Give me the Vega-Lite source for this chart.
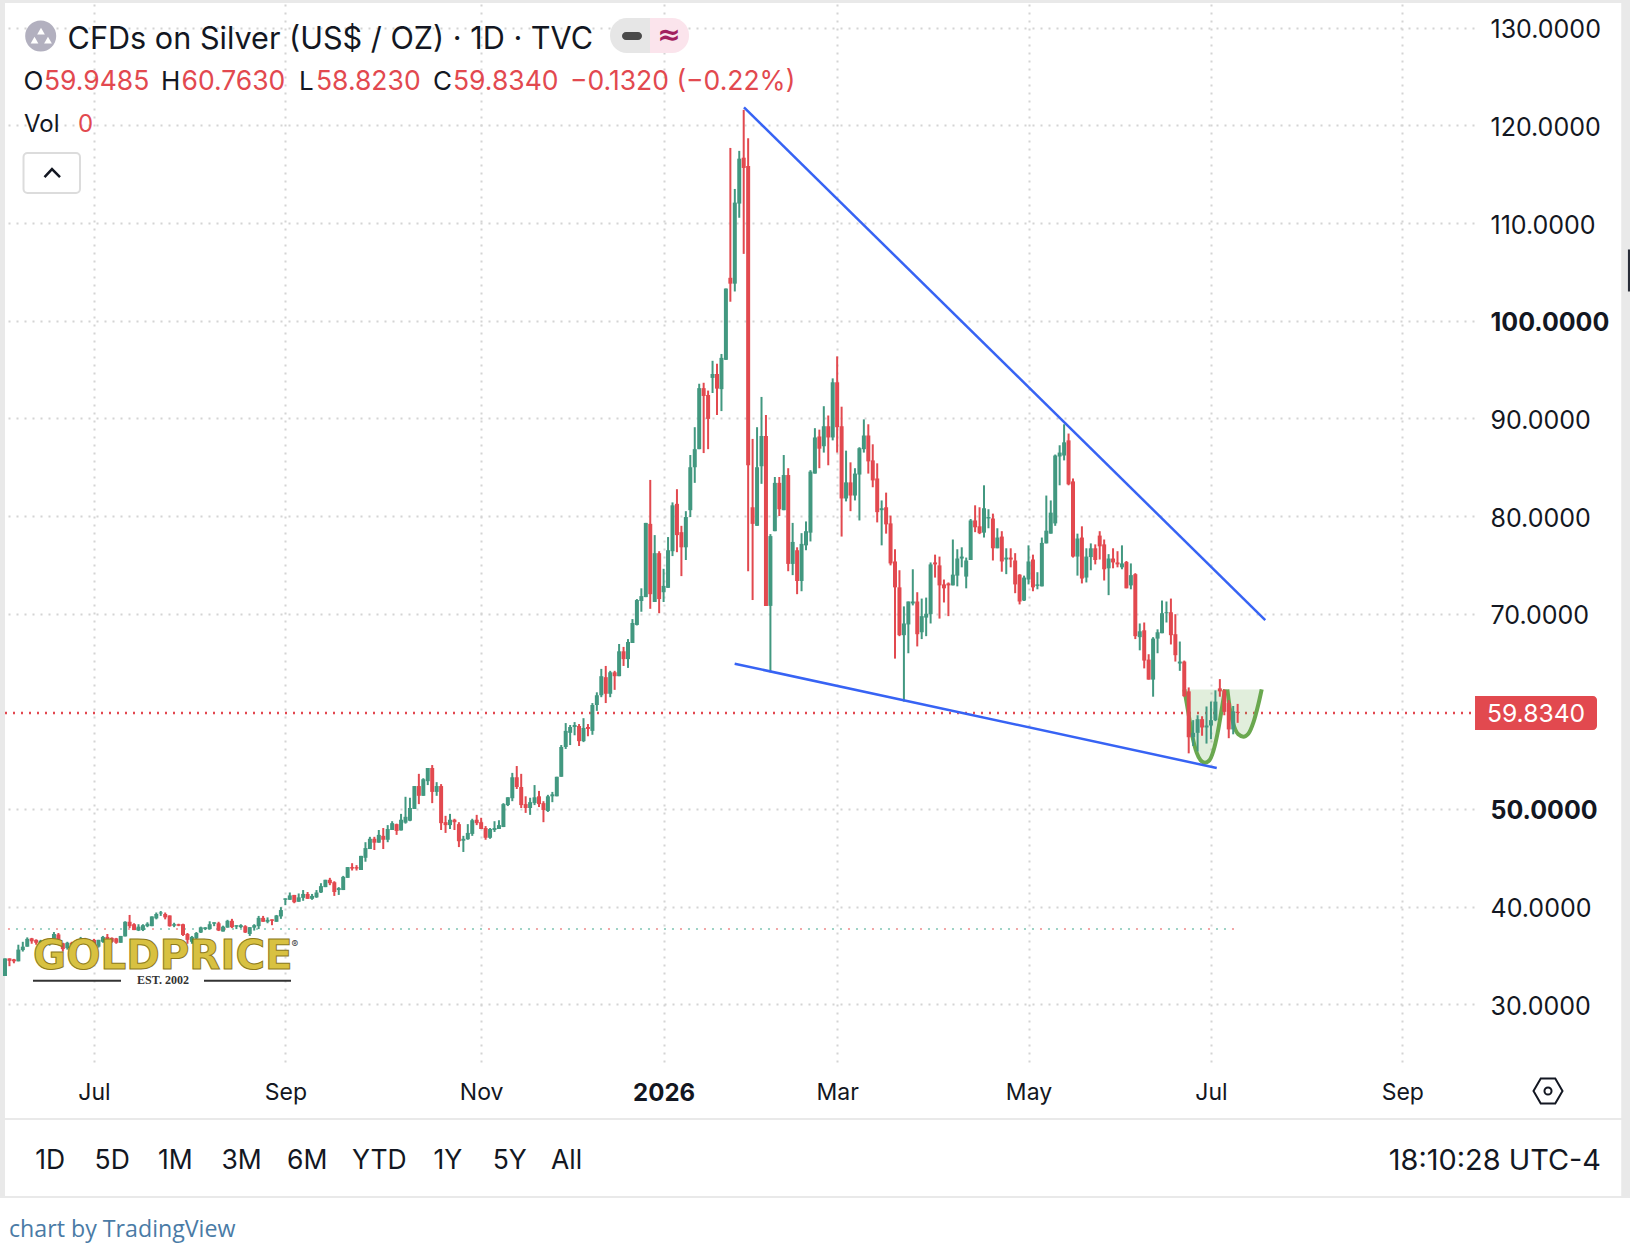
{
"$schema":"https://vega.github.io/schema/vega-lite/v6.json",
"width":1469,"height":1058,
"autosize":{"type":"none"},
"padding":{"left":5,"top":4,"right":156,"bottom":190},
"background":"white",
"config":{"view":{"stroke":null},"font":"Inter"},
"datasets":{"candles":[
{"session":0,"open":32.9,"high":34.7,"low":32.9,"close":34.7},
{"session":1,"open":34.7,"high":34.7,"low":33.9,"close":34.45},
{"session":2,"open":34.6,"high":34.65,"low":34.2,"close":34.4},
{"session":3,"open":34.4,"high":36.1,"low":34.4,"close":35.6},
{"session":4,"open":35.55,"high":36.4,"low":35.4,"close":35.9},
{"session":5,"open":35.9,"high":36.85,"low":35.9,"close":36.7},
{"session":6,"open":36.75,"high":36.8,"low":36.2,"close":36.45},
{"session":7,"open":36.6,"high":36.65,"low":36.1,"close":36.3},
{"session":8,"open":36.2,"high":36.6,"low":36.0,"close":36.5},
{"session":9,"open":36.4,"high":36.5,"low":36.1,"close":36.15},
{"session":10,"open":36.15,"high":36.55,"low":36.0,"close":36.45},
{"session":11,"open":36.4,"high":37.4,"low":36.3,"close":37.2},
{"session":12,"open":37.15,"high":37.3,"low":36.4,"close":36.6},
{"session":13,"open":36.25,"high":36.3,"low":35.4,"close":35.65},
{"session":14,"open":35.75,"high":36.4,"low":35.6,"close":36.3},
{"session":15,"open":36.3,"high":36.4,"low":36.0,"close":36.1},
{"session":16,"open":36.1,"high":36.3,"low":35.8,"close":36.2},
{"session":17,"open":36.2,"high":36.9,"low":36.1,"close":36.7},
{"session":18,"open":36.7,"high":36.8,"low":36.2,"close":36.3},
{"session":19,"open":36.3,"high":36.5,"low":35.9,"close":36.0},
{"session":20,"open":36.6,"high":36.7,"low":35.7,"close":35.9},
{"session":21,"open":35.9,"high":36.6,"low":35.8,"close":36.6},
{"session":22,"open":36.4,"high":37.0,"low":36.3,"close":36.9},
{"session":23,"open":36.9,"high":37.2,"low":36.4,"close":36.7},
{"session":24,"open":36.8,"high":36.85,"low":36.3,"close":36.4},
{"session":25,"open":36.75,"high":36.8,"low":36.2,"close":36.3},
{"session":26,"open":36.3,"high":37.0,"low":36.3,"close":37.0},
{"session":27,"open":36.95,"high":38.5,"low":36.95,"close":38.45},
{"session":28,"open":38.45,"high":39.15,"low":37.8,"close":38.0},
{"session":29,"open":38.2,"high":38.3,"low":37.6,"close":37.6},
{"session":30,"open":37.55,"high":38.2,"low":37.5,"close":37.95},
{"session":31,"open":37.6,"high":38.2,"low":37.5,"close":38.1},
{"session":32,"open":38.0,"high":38.4,"low":37.9,"close":38.25},
{"session":33,"open":38.0,"high":39.0,"low":38.0,"close":39.0},
{"session":34,"open":38.8,"high":39.4,"low":38.7,"close":39.25},
{"session":35,"open":39.3,"high":39.55,"low":39.05,"close":39.4},
{"session":36,"open":39.25,"high":39.4,"low":38.7,"close":38.9},
{"session":37,"open":39.1,"high":39.1,"low":37.95,"close":38.0},
{"session":38,"open":38.05,"high":38.35,"low":37.9,"close":38.2},
{"session":39,"open":38.2,"high":38.25,"low":38.0,"close":38.05},
{"session":40,"open":38.2,"high":38.25,"low":37.0,"close":37.1},
{"session":41,"open":37.2,"high":37.3,"low":36.2,"close":36.6},
{"session":42,"open":36.4,"high":37.0,"low":36.2,"close":36.9},
{"session":43,"open":36.75,"high":37.4,"low":36.65,"close":37.3},
{"session":44,"open":37.35,"high":37.95,"low":37.3,"close":37.88},
{"session":45,"open":37.7,"high":37.9,"low":37.6,"close":37.88},
{"session":46,"open":37.7,"high":38.5,"low":37.65,"close":38.2},
{"session":47,"open":38.25,"high":38.4,"low":38.0,"close":38.4},
{"session":48,"open":38.3,"high":38.45,"low":37.5,"close":37.55},
{"session":49,"open":37.45,"high":38.05,"low":37.45,"close":37.95},
{"session":50,"open":37.85,"high":38.65,"low":37.85,"close":38.55},
{"session":51,"open":38.55,"high":38.75,"low":37.8,"close":37.9},
{"session":52,"open":37.95,"high":38.1,"low":37.7,"close":38.1},
{"session":53,"open":37.9,"high":38.2,"low":37.8,"close":38.1},
{"session":54,"open":38.0,"high":38.1,"low":37.3,"close":37.35},
{"session":55,"open":37.2,"high":37.9,"low":37.0,"close":37.9},
{"session":56,"open":37.85,"high":38.2,"low":37.55,"close":38.1},
{"session":57,"open":38.0,"high":39.05,"low":37.7,"close":38.85},
{"session":58,"open":38.85,"high":39.05,"low":38.45,"close":38.45},
{"session":59,"open":38.45,"high":38.9,"low":38.3,"close":38.65},
{"session":60,"open":38.7,"high":38.7,"low":38.1,"close":38.55},
{"session":61,"open":38.45,"high":39.15,"low":38.45,"close":39.1},
{"session":62,"open":39.0,"high":39.95,"low":38.75,"close":39.65},
{"session":63,"open":40.7,"high":40.85,"low":40.15,"close":40.85},
{"session":64,"open":40.7,"high":41.45,"low":40.7,"close":41.15},
{"session":65,"open":41.2,"high":41.2,"low":40.35,"close":40.45},
{"session":66,"open":40.5,"high":41.35,"low":40.5,"close":40.95},
{"session":67,"open":40.9,"high":41.7,"low":40.6,"close":41.3},
{"session":68,"open":41.3,"high":41.5,"low":40.8,"close":40.8},
{"session":69,"open":40.8,"high":41.3,"low":40.7,"close":41.1},
{"session":70,"open":40.95,"high":41.7,"low":40.9,"close":41.45},
{"session":71,"open":41.45,"high":42.4,"low":41.4,"close":42.1},
{"session":72,"open":42.0,"high":42.75,"low":42.0,"close":42.75},
{"session":73,"open":42.75,"high":42.95,"low":42.2,"close":42.4},
{"session":74,"open":42.5,"high":42.6,"low":41.1,"close":41.5},
{"session":75,"open":41.7,"high":42.0,"low":41.2,"close":41.9},
{"session":76,"open":41.7,"high":43.15,"low":41.7,"close":43.05},
{"session":77,"open":42.95,"high":44.05,"low":42.95,"close":44.05},
{"session":78,"open":44.05,"high":44.45,"low":43.7,"close":43.9},
{"session":79,"open":44.05,"high":44.25,"low":43.7,"close":43.9},
{"session":80,"open":43.75,"high":45.2,"low":43.75,"close":45.2},
{"session":81,"open":45.0,"high":46.6,"low":44.6,"close":46.0},
{"session":82,"open":45.9,"high":47.15,"low":45.9,"close":46.95},
{"session":83,"open":46.95,"high":47.15,"low":45.8,"close":46.55},
{"session":84,"open":46.55,"high":47.85,"low":46.55,"close":47.35},
{"session":85,"open":47.25,"high":48.05,"low":45.9,"close":46.85},
{"session":86,"open":46.85,"high":48.35,"low":46.6,"close":47.95},
{"session":87,"open":47.85,"high":48.75,"low":47.85,"close":48.55},
{"session":88,"open":48.45,"high":48.5,"low":47.35,"close":47.75},
{"session":89,"open":47.8,"high":49.5,"low":47.8,"close":48.9},
{"session":90,"open":48.6,"high":51.25,"low":48.5,"close":49.2},
{"session":91,"open":48.8,"high":51.15,"low":48.75,"close":50.1},
{"session":92,"open":50.0,"high":52.35,"low":50.0,"close":52.35},
{"session":93,"open":52.35,"high":53.6,"low":50.5,"close":51.35},
{"session":94,"open":51.35,"high":53.15,"low":51.35,"close":53.05},
{"session":95,"open":52.85,"high":54.2,"low":52.45,"close":54.2},
{"session":96,"open":54.2,"high":54.5,"low":50.6,"close":51.75},
{"session":97,"open":51.75,"high":52.75,"low":51.35,"close":52.35},
{"session":98,"open":52.35,"high":52.55,"low":47.85,"close":48.55},
{"session":99,"open":48.65,"high":49.3,"low":47.55,"close":48.35},
{"session":100,"open":48.35,"high":49.5,"low":47.95,"close":48.9},
{"session":101,"open":48.9,"high":49.0,"low":47.85,"close":48.65},
{"session":102,"open":48.45,"high":48.65,"low":46.1,"close":46.7},
{"session":103,"open":46.75,"high":47.25,"low":45.6,"close":46.95},
{"session":104,"open":46.9,"high":48.45,"low":46.85,"close":47.55},
{"session":105,"open":47.45,"high":49.0,"low":47.25,"close":48.85},
{"session":106,"open":48.9,"high":49.4,"low":48.35,"close":48.55},
{"session":107,"open":48.65,"high":49.1,"low":47.95,"close":47.95},
{"session":108,"open":48.05,"high":48.25,"low":46.85,"close":47.05},
{"session":109,"open":47.05,"high":48.05,"low":46.95,"close":47.95},
{"session":110,"open":47.85,"high":48.75,"low":47.65,"close":48.05},
{"session":111,"open":47.95,"high":48.85,"low":47.95,"close":48.35},
{"session":112,"open":48.15,"high":50.6,"low":48.15,"close":50.5},
{"session":113,"open":50.4,"high":51.2,"low":50.3,"close":51.2},
{"session":114,"open":51.1,"high":53.7,"low":50.8,"close":53.25},
{"session":115,"open":53.25,"high":54.4,"low":52.05,"close":52.25},
{"session":116,"open":52.25,"high":53.6,"low":50.1,"close":50.4},
{"session":117,"open":50.5,"high":51.3,"low":49.6,"close":50.1},
{"session":118,"open":50.1,"high":51.15,"low":49.4,"close":50.7},
{"session":119,"open":50.6,"high":52.45,"low":50.4,"close":51.2},
{"session":120,"open":51.3,"high":51.85,"low":50.2,"close":50.5},
{"session":121,"open":50.6,"high":50.8,"low":48.65,"close":49.9},
{"session":122,"open":49.8,"high":51.45,"low":49.7,"close":51.3},
{"session":123,"open":51.3,"high":51.75,"low":50.7,"close":51.5},
{"session":124,"open":51.3,"high":53.3,"low":51.3,"close":53.3},
{"session":125,"open":53.3,"high":56.55,"low":53.3,"close":56.35},
{"session":126,"open":56.35,"high":58.8,"low":56.15,"close":58.0},
{"session":127,"open":57.8,"high":58.6,"low":56.55,"close":58.4},
{"session":128,"open":58.4,"high":58.9,"low":57.55,"close":58.6},
{"session":129,"open":58.5,"high":58.7,"low":56.45,"close":56.95},
{"session":130,"open":56.95,"high":59.3,"low":56.85,"close":58.3},
{"session":131,"open":58.4,"high":58.7,"low":57.45,"close":58.2},
{"session":132,"open":58.0,"high":60.85,"low":57.6,"close":60.65},
{"session":133,"open":60.65,"high":61.95,"low":60.05,"close":61.65},
{"session":134,"open":61.65,"high":64.35,"low":61.45,"close":63.6},
{"session":135,"open":63.5,"high":64.65,"low":60.85,"close":61.8},
{"session":136,"open":61.8,"high":64.15,"low":61.45,"close":64.0},
{"session":137,"open":64.0,"high":64.15,"low":62.2,"close":63.6},
{"session":138,"open":63.6,"high":66.9,"low":63.6,"close":66.15},
{"session":139,"open":66.15,"high":66.6,"low":64.65,"close":65.35},
{"session":140,"open":65.35,"high":67.4,"low":64.45,"close":67.1},
{"session":141,"open":67.0,"high":69.45,"low":67.0,"close":69.05},
{"session":142,"open":68.85,"high":71.5,"low":68.8,"close":71.4},
{"session":143,"open":71.3,"high":72.6,"low":70.2,"close":71.8},
{"session":144,"open":71.7,"high":79.3,"low":71.7,"close":79.3},
{"session":145,"open":79.2,"high":83.7,"low":70.5,"close":72.0},
{"session":146,"open":71.2,"high":78.05,"low":71.2,"close":76.2},
{"session":147,"open":76.2,"high":76.4,"low":70.05,"close":71.5},
{"session":148,"open":72.2,"high":74.6,"low":71.2,"close":72.85},
{"session":149,"open":72.65,"high":77.85,"low":72.65,"close":76.5},
{"session":150,"open":76.4,"high":81.4,"low":75.9,"close":81.1},
{"session":151,"open":81.25,"high":82.75,"low":76.3,"close":78.05},
{"session":152,"open":78.35,"high":79.0,"low":73.85,"close":76.8},
{"session":153,"open":76.8,"high":80.5,"low":75.5,"close":79.9},
{"session":154,"open":80.6,"high":86.25,"low":79.9,"close":85.0},
{"session":155,"open":85.0,"high":89.1,"low":83.4,"close":86.85},
{"session":156,"open":86.85,"high":93.55,"low":86.85,"close":93.1},
{"session":157,"open":93.1,"high":93.65,"low":86.45,"close":92.3},
{"session":158,"open":92.4,"high":92.85,"low":86.85,"close":89.95},
{"session":159,"open":94.15,"high":95.9,"low":92.6,"close":94.55},
{"session":160,"open":94.55,"high":95.6,"low":90.35,"close":93.05},
{"session":161,"open":93.0,"high":96.6,"low":90.75,"close":96.2},
{"session":162,"open":96.0,"high":103.3,"low":96.0,"close":103.3},
{"session":163,"open":104.4,"high":117.7,"low":101.95,"close":103.8},
{"session":164,"open":103.8,"high":113.5,"low":103.0,"close":112.1},
{"session":165,"open":112.0,"high":117.4,"low":110.55,"close":116.6},
{"session":166,"open":116.7,"high":121.6,"low":106.85,"close":115.65},
{"session":167,"open":115.85,"high":118.7,"low":74.35,"close":85.2},
{"session":168,"open":80.9,"high":87.9,"low":71.4,"close":79.2},
{"session":169,"open":79.0,"high":89.1,"low":79.0,"close":85.0},
{"session":170,"open":85.1,"high":92.2,"low":83.3,"close":88.2},
{"session":171,"open":88.2,"high":90.35,"low":70.8,"close":70.8},
{"session":172,"open":70.8,"high":78.15,"low":64.0,"close":77.95},
{"session":173,"open":78.45,"high":84.0,"low":78.45,"close":83.4},
{"session":174,"open":83.4,"high":84.0,"low":80.0,"close":80.7},
{"session":175,"open":80.6,"high":86.25,"low":80.6,"close":84.2},
{"session":176,"open":84.2,"high":84.9,"low":74.35,"close":75.1},
{"session":177,"open":75.1,"high":79.3,"low":73.95,"close":77.35},
{"session":178,"open":76.5,"high":76.8,"low":72.0,"close":73.35},
{"session":179,"open":73.35,"high":78.25,"low":72.3,"close":77.15},
{"session":180,"open":77.0,"high":79.45,"low":76.5,"close":78.45},
{"session":181,"open":78.3,"high":84.7,"low":77.4,"close":84.55},
{"session":182,"open":84.35,"high":89.0,"low":84.35,"close":88.05},
{"session":183,"open":88.15,"high":88.85,"low":84.9,"close":86.9},
{"session":184,"open":87.15,"high":91.25,"low":86.5,"close":89.2},
{"session":185,"open":89.2,"high":90.3,"low":85.2,"close":88.05},
{"session":186,"open":88.05,"high":94.1,"low":87.75,"close":93.7},
{"session":187,"open":93.7,"high":96.35,"low":86.5,"close":89.1},
{"session":188,"open":89.2,"high":91.2,"low":77.9,"close":81.8},
{"session":189,"open":81.8,"high":86.7,"low":81.5,"close":83.45},
{"session":190,"open":83.45,"high":85.5,"low":80.5,"close":82.1},
{"session":191,"open":82.1,"high":84.9,"low":81.6,"close":84.35},
{"session":192,"open":84.25,"high":87.05,"low":79.55,"close":86.95},
{"session":193,"open":86.85,"high":89.9,"low":86.5,"close":88.25},
{"session":194,"open":88.25,"high":89.4,"low":84.35,"close":85.6},
{"session":195,"open":85.7,"high":87.35,"low":82.95,"close":83.65},
{"session":196,"open":83.85,"high":85.4,"low":79.35,"close":80.4},
{"session":197,"open":80.6,"high":81.6,"low":77.0,"close":80.8},
{"session":198,"open":80.9,"high":82.4,"low":78.2,"close":79.15},
{"session":199,"open":79.25,"high":80.05,"low":74.95,"close":75.15},
{"session":200,"open":75.35,"high":76.6,"low":65.4,"close":72.7},
{"session":201,"open":72.7,"high":74.45,"low":67.7,"close":67.8},
{"session":202,"open":67.8,"high":70.75,"low":61.0,"close":69.0},
{"session":203,"open":68.9,"high":71.25,"low":65.95,"close":71.25},
{"session":204,"open":71.05,"high":74.55,"low":70.85,"close":71.25},
{"session":205,"open":71.25,"high":72.2,"low":66.65,"close":67.9},
{"session":206,"open":68.1,"high":71.55,"low":67.4,"close":69.75},
{"session":207,"open":69.6,"high":71.65,"low":67.7,"close":70.0},
{"session":208,"open":69.95,"high":75.25,"low":69.0,"close":75.05},
{"session":209,"open":75.25,"high":76.05,"low":73.7,"close":75.05},
{"session":210,"open":74.95,"high":75.85,"low":69.5,"close":72.9},
{"session":211,"open":73.0,"high":73.5,"low":71.15,"close":72.6},
{"session":212,"open":73.1,"high":73.2,"low":69.75,"close":72.9},
{"session":213,"open":72.9,"high":77.6,"low":72.9,"close":74.0},
{"session":214,"open":73.9,"high":76.6,"low":72.8,"close":75.65},
{"session":215,"open":75.65,"high":76.8,"low":74.75,"close":75.85},
{"session":216,"open":73.8,"high":75.75,"low":72.6,"close":75.45},
{"session":217,"open":75.5,"high":79.7,"low":75.5,"close":79.55},
{"session":218,"open":79.55,"high":81.1,"low":78.35,"close":78.85},
{"session":219,"open":78.95,"high":80.9,"low":78.15,"close":78.25},
{"session":220,"open":78.3,"high":83.15,"low":77.8,"close":80.8},
{"session":221,"open":79.75,"high":80.7,"low":78.75,"close":79.9},
{"session":222,"open":79.75,"high":80.25,"low":75.45,"close":76.7},
{"session":223,"open":76.7,"high":78.75,"low":76.7,"close":77.8},
{"session":224,"open":77.9,"high":78.45,"low":74.3,"close":75.35},
{"session":225,"open":75.55,"high":76.7,"low":74.05,"close":75.75},
{"session":226,"open":75.75,"high":76.7,"low":74.75,"close":75.55},
{"session":227,"open":75.45,"high":76.2,"low":72.1,"close":73.0},
{"session":228,"open":74.0,"high":74.05,"low":70.95,"close":71.25},
{"session":229,"open":71.35,"high":73.9,"low":71.3,"close":73.7},
{"session":230,"open":73.5,"high":77.0,"low":73.0,"close":75.35},
{"session":231,"open":75.55,"high":76.05,"low":72.3,"close":72.7},
{"session":232,"open":72.85,"high":74.25,"low":72.5,"close":73.0},
{"session":233,"open":72.8,"high":77.8,"low":72.8,"close":77.25},
{"session":234,"open":77.2,"high":82.1,"low":77.2,"close":78.5},
{"session":235,"open":78.2,"high":81.6,"low":78.2,"close":80.35},
{"session":236,"open":79.25,"high":86.3,"low":79.0,"close":86.2},
{"session":237,"open":86.1,"high":87.25,"low":83.15,"close":86.5},
{"session":238,"open":86.2,"high":89.4,"low":85.7,"close":87.55},
{"session":239,"open":87.75,"high":88.45,"low":83.15,"close":83.25},
{"session":240,"open":83.55,"high":83.85,"low":75.75,"close":75.85},
{"session":241,"open":75.85,"high":78.2,"low":73.9,"close":77.7},
{"session":242,"open":77.8,"high":78.95,"low":73.1,"close":73.6},
{"session":243,"open":73.7,"high":76.7,"low":73.2,"close":75.85},
{"session":244,"open":75.8,"high":77.2,"low":74.45,"close":76.7},
{"session":245,"open":76.7,"high":77.1,"low":75.05,"close":75.5},
{"session":246,"open":78.0,"high":78.45,"low":75.55,"close":76.9},
{"session":247,"open":77.1,"high":77.6,"low":73.4,"close":74.55},
{"session":248,"open":74.65,"high":76.1,"low":71.9,"close":75.65},
{"session":249,"open":75.65,"high":76.7,"low":74.65,"close":75.25},
{"session":250,"open":75.25,"high":76.4,"low":74.75,"close":75.05},
{"session":251,"open":74.75,"high":77.0,"low":74.55,"close":75.15},
{"session":252,"open":75.3,"high":75.4,"low":72.6,"close":72.6},
{"session":253,"open":72.9,"high":75.15,"low":72.5,"close":73.95},
{"session":254,"open":74.05,"high":74.15,"low":67.4,"close":67.7},
{"session":255,"open":67.6,"high":69.0,"low":66.25,"close":68.2},
{"session":256,"open":68.3,"high":69.1,"low":64.4,"close":65.2},
{"session":257,"open":65.3,"high":65.85,"low":63.25,"close":63.25},
{"session":258,"open":63.25,"high":67.6,"low":61.5,"close":67.45},
{"session":259,"open":67.45,"high":68.4,"low":65.95,"close":68.1},
{"session":260,"open":68.0,"high":71.35,"low":68.0,"close":70.05},
{"session":261,"open":70.05,"high":71.25,"low":69.1,"close":70.15},
{"session":262,"open":70.15,"high":71.55,"low":66.85,"close":67.8},
{"session":263,"open":67.9,"high":69.95,"low":65.1,"close":65.75},
{"session":264,"open":64.9,"high":67.15,"low":64.15,"close":65.1},
{"session":265,"open":65.1,"high":65.2,"low":61.5,"close":61.55},
{"session":266,"open":62.05,"high":62.45,"low":55.7,"close":57.35},
{"session":267,"open":57.35,"high":59.1,"low":56.45,"close":57.8},
{"session":268,"open":57.8,"high":59.6,"low":55.9,"close":59.2},
{"session":269,"open":59.2,"high":59.5,"low":57.5,"close":58.35},
{"session":270,"open":58.35,"high":60.5,"low":56.7,"close":58.55},
{"session":271,"open":58.55,"high":61.0,"low":57.15,"close":59.1},
{"session":272,"open":59.1,"high":62.15,"low":59.0,"close":61.0},
{"session":273,"open":62.35,"high":63.3,"low":61.5,"close":62.05},
{"session":274,"open":62.15,"high":62.25,"low":59.6,"close":59.95},
{"session":275,"open":60.85,"high":61.15,"low":57.25,"close":58.15},
{"session":276,"open":58.15,"high":60.55,"low":57.65,"close":60.0},
{"session":277,"open":59.9485,"high":60.763,"low":58.823,"close":59.834}
],
"cupHandle":[
{"shape":"cup","session":265.02,"price":62.25,"top":62.25},
{"shape":"cup","session":265.92,"price":59.86,"top":62.25},
{"shape":"cup","session":266.82,"price":57.47,"top":62.25},
{"shape":"cup","session":267.79,"price":55.77,"top":62.25},
{"shape":"cup","session":268.69,"price":54.98,"top":62.25},
{"shape":"cup","session":269.66,"price":54.74,"top":62.25},
{"shape":"cup","session":270.64,"price":54.98,"top":62.25},
{"shape":"cup","session":271.54,"price":55.94,"top":62.25},
{"shape":"cup","session":272.51,"price":57.82,"top":62.25},
{"shape":"cup","session":273.41,"price":60.2,"top":62.25},
{"shape":"cup","session":274.16,"price":62.25,"top":62.25},
{"shape":"handle","session":274.68,"price":62.25,"top":62.25},
{"shape":"handle","session":275.28,"price":60.2,"top":62.25},
{"shape":"handle","session":276.18,"price":58.5,"top":62.25},
{"shape":"handle","session":277.15,"price":57.65,"top":62.25},
{"shape":"handle","session":278.28,"price":57.41,"top":62.25},
{"shape":"handle","session":279.4,"price":57.71,"top":62.25},
{"shape":"handle","session":280.52,"price":58.84,"top":62.25},
{"shape":"handle","session":281.65,"price":60.72,"top":62.25},
{"shape":"handle","session":282.4,"price":62.25,"top":62.25}
]},
"encoding":{
 "x":{"field":"session","type":"quantitative","title":null,"scale":{"domain":[0,330.11],"nice":false,"zero":false},
  "axis":{"values":[20,63,107,148,187,230,271,314],
   "labelExpr":"{'20':'Jul','63':'Sep','107':'Nov','148':'2026','187':'Mar','230':'May','271':'Jul','314':'Sep'}[datum.value]",
   "domain":false,"ticks":false,"labelPadding":19,"labelFont":"Inter","labelColor":"#131722","labelFlush":false,"labelOverlap":false,
   "labelFontSize":{"condition":{"test":"datum.value === 148","value":24},"value":23},
   "labelFontWeight":{"condition":{"test":"datum.value === 148","value":"bold"},"value":"normal"},
   "grid":true,"gridDash":[2,6],"gridWidth":2,"gridColor":"#d4d4d4"}},
 "y":{"field":"price","type":"quantitative","title":null,"scale":{"domain":[24.09,132.44],"nice":false,"zero":false},
  "axis":{"orient":"right","values":[30,40,50,70,80,90,100,110,120,130],"format":".4f",
   "domain":false,"ticks":false,"labelPadding":16,"labelFontSize":25,"labelOffset":2,"labelFont":"Inter","labelColor":"#131722","labelFlush":false,"labelOverlap":false,"labelAlign":"left",
   "labelFontWeight":{"condition":{"test":"datum.value === 100 || datum.value === 50","value":"bold"},"value":"normal"},
   "grid":true,"gridDash":[2,6],"gridWidth":2,"gridColor":"#d4d4d4"}}
},
"layer":[
{"data":{"values":[
 {"session":-1.13,"session2":0,"price":132.85,"price2":10.17},
 {"session":-1.13,"session2":365.2,"price":132.85,"price2":132.54},
 {"session":363.2,"session2":365.2,"price":132.85,"price2":10.17},
 {"session":-1.13,"session2":365.2,"price":18.36,"price2":18.15},
 {"session":-1.13,"session2":365.2,"price":10.37,"price2":10.17}]},
 "mark":{"type":"rect","color":"#e9e9e9"},
 "encoding":{"x2":{"field":"session2"},"y2":{"field":"price2"}}},
{"data":{"values":[{"session":364.7,"session2":365.2,"price":107.3,"price2":103}]},
 "mark":{"type":"rect","color":"#2a2e39"},
 "encoding":{"x2":{"field":"session2"},"y2":{"field":"price2"}}},
{"data":{"values":[{"session":0,"session2":330.11,"price":59.834}]},
 "mark":{"type":"rule","color":"#e2474f","strokeWidth":2.4,"strokeDash":[2,6]},
 "encoding":{"x2":{"field":"session2"}}},
{"data":{"values":[{"session":0.67,"session2":277,"price":37.71}]},
 "mark":{"type":"rule","color":"#f2a7a7","strokeWidth":2,"strokeDash":[2,22]},
 "encoding":{"x2":{"field":"session2"}}},
{"data":{"values":[{"session":0.67,"session2":277,"price":37.71}]},
 "mark":{"type":"rule","color":"#9ed3c6","strokeWidth":2,"strokeDash":[0,8,2,6,2,6]},
 "encoding":{"x2":{"field":"session2"}}},
{"data":{"name":"cupHandle"},
 "mark":{"type":"area","color":"#6aa84f","opacity":0.2,"interpolate":"monotone","orient":"vertical"},
 "encoding":{"y2":{"field":"top"},"detail":{"field":"shape"}}},
{"data":{"name":"cupHandle"},
 "mark":{"type":"line","color":"#6aa84f","strokeWidth":4,"interpolate":"monotone"},
 "encoding":{"detail":{"field":"shape"}}},
{"data":{"name":"candles"},
 "mark":{"type":"rule","strokeWidth":2},
 "encoding":{"y":{"field":"low","type":"quantitative"},"y2":{"field":"high"},
  "color":{"condition":{"test":"datum.close >= datum.open","value":"#429880"},"value":"#e2494f"}}},
{"data":{"name":"candles"},
 "mark":{"type":"rule","strokeWidth":4},
 "encoding":{"y":{"field":"open","type":"quantitative"},"y2":{"field":"close"},
  "color":{"condition":{"test":"datum.close >= datum.open","value":"#429880"},"value":"#e2494f"}}},
{"data":{"values":[
 {"line":"upper","session":166.07,"price":121.86},{"line":"upper","session":283.2,"price":69.35},
 {"line":"lower","session":163.97,"price":64.88},{"line":"lower","session":272.3,"price":54.2}]},
 "mark":{"type":"line","color":"#3763f4","strokeWidth":2.5},
 "encoding":{"detail":{"field":"line"}}},
{"data":{"values":[{"session":6.29,"price":35.05,"label":"GOLDPRICE"}]},
 "mark":{"type":"text","align":"left","baseline":"middle","dy":2,"font":"DejaVu Sans","fontWeight":"bold","fontSize":40.4,"color":"#d8c141","stroke":"#8d7a1c","strokeWidth":1},
 "encoding":{"text":{"field":"label"}}},
{"data":{"values":[{"session":64.4,"price":36.07,"label":"®"}]},
 "mark":{"type":"text","align":"left","baseline":"middle","fontSize":10,"color":"#444444"},
 "encoding":{"text":{"field":"label"}}},
{"data":{"values":[{"session":35.5,"price":32.49,"label":"EST. 2002"}]},
 "mark":{"type":"text","align":"center","baseline":"middle","font":"Liberation Serif","fontWeight":"bold","fontSize":12,"color":"#333333"},
 "encoding":{"text":{"field":"label"}}},
{"data":{"values":[
 {"part":"left","session":6.29,"price":32.42},{"part":"left","session":26.07,"price":32.42},
 {"part":"right","session":44.72,"price":32.42},{"part":"right","session":64.27,"price":32.42}]},
 "mark":{"type":"line","color":"#333333","strokeWidth":2},
 "encoding":{"detail":{"field":"part"}}},
{"data":{"values":[{"session":8.02,"price":129.16}]},
 "mark":{"type":"point","filled":true,"color":"#b2b0bf","opacity":1,"size":962,"shape":"circle"}},
{"data":{"values":[{"session":8.09,"price":129.67},{"session":6.63,"price":128.75},{"session":9.66,"price":128.75}]},
 "mark":{"type":"point","filled":true,"color":"white","opacity":1,"size":60,"shape":"triangle-up"}},
{"data":{"values":[{"session":14.07,"price":129.06,"label":"CFDs on Silver (US$ / OZ) · 1D · TVC"}]},
 "mark":{"type":"text","align":"left","baseline":"middle","dy":3,"fontSize":30.6,"color":"#131722"},
 "encoding":{"text":{"field":"label"}}},
{"data":{"values":[{"session":135.96,"session2":144.94,"price":131.0,"price2":127.42}]},
 "mark":{"type":"rect","color":"#e6e6e6","cornerRadiusTopLeft":17,"cornerRadiusBottomLeft":17},
 "encoding":{"x2":{"field":"session2"},"y2":{"field":"price2"}}},
{"data":{"values":[{"session":144.94,"session2":153.71,"price":131.0,"price2":127.42}]},
 "mark":{"type":"rect","color":"#fbe4ec","cornerRadiusTopRight":17,"cornerRadiusBottomRight":17},
 "encoding":{"x2":{"field":"session2"},"y2":{"field":"price2"}}},
{"data":{"values":[{"session":138.65,"session2":143.15,"price":129.57,"price2":128.75}]},
 "mark":{"type":"rect","color":"#4a4a4a","cornerRadius":4},
 "encoding":{"x2":{"field":"session2"},"y2":{"field":"price2"}}},
{"data":{"values":[{"session":149.2,"price":129.16,"label":"≈"}]},
 "mark":{"type":"text","align":"center","baseline":"middle","font":"DejaVu Sans","fontWeight":"bold","fontSize":28,"color":"#a1205f"},
 "encoding":{"text":{"field":"label"}}},
{"data":{"values":[
 {"session":4.16,"price":124.65,"label":"O"},{"session":35.06,"price":124.65,"label":"H"},
 {"session":66.07,"price":124.65,"label":"L"},{"session":96.18,"price":124.65,"label":"C"}]},
 "mark":{"type":"text","align":"left","baseline":"middle","dy":2,"fontSize":26,"color":"#131722"},
 "encoding":{"text":{"field":"label"}}},
{"data":{"values":[{"session":4.27,"price":120.2,"label":"Vol"}]},
 "mark":{"type":"text","align":"left","baseline":"middle","dy":1,"fontSize":24,"color":"#131722"},
 "encoding":{"text":{"field":"label"}}},
{"data":{"values":[
 {"session":6.81,"price":14.16,"label":"1D"},{"session":20.13,"price":14.16,"label":"5D"},
 {"session":34.38,"price":14.16,"label":"1M"},{"session":48.63,"price":14.16,"label":"3M"},
 {"session":63.37,"price":14.16,"label":"6M"},{"session":77.98,"price":14.16,"label":"YTD"},
 {"session":96.29,"price":14.16,"label":"1Y"},{"session":109.6,"price":14.16,"label":"5Y"},
 {"session":122.7,"price":14.16,"label":"All"}]},
 "mark":{"type":"text","align":"left","baseline":"middle","dy":2,"fontSize":26.5,"color":"#131722"},
 "encoding":{"text":{"field":"label"}}},
{"data":{"values":[
 {"session":8.76,"price":124.65,"label":"59.9485"},{"session":39.66,"price":124.65,"label":"60.7630"},
 {"session":69.89,"price":124.65,"label":"58.8230"},{"session":100.67,"price":124.65,"label":"59.8340"},
 {"session":126.97,"price":124.65,"label":"−0.1320 (−0.22%)"}]},
 "mark":{"type":"text","align":"left","baseline":"middle","dy":2,"fontSize":26.5,"color":"#e2494f"},
 "encoding":{"text":{"field":"label"}}},
{"data":{"values":[{"session":16.4,"price":120.2,"label":"0"}]},
 "mark":{"type":"text","align":"left","baseline":"middle","dy":1,"fontSize":24,"color":"#e2494f"},
 "encoding":{"text":{"field":"label"}}},
{"data":{"values":[{"session":4.16,"session2":16.85,"price":117.18,"price2":113.08}]},
 "mark":{"type":"rect","fill":"white","stroke":"#dcdcdc","strokeWidth":2,"cornerRadius":4},
 "encoding":{"x2":{"field":"session2"},"y2":{"field":"price2"}}},
{"data":{"values":[{"session":8.88,"price":114.72},{"session":10.56,"price":115.54},{"session":12.36,"price":114.72}]},
 "mark":{"type":"line","color":"#131722","strokeWidth":2.5}},
{"data":{"values":[{"session":330.34,"session2":357.75,"price":61.57,"price2":58.09}]},
 "mark":{"type":"rect","color":"#e2494f","cornerRadiusTopRight":4,"cornerRadiusBottomRight":4},
 "encoding":{"x2":{"field":"session2"},"y2":{"field":"price2"}}},
{"data":{"values":[{"session":344.05,"price":59.834,"label":"59.8340"}]},
 "mark":{"type":"text","align":"center","baseline":"middle","dy":2,"fontSize":24.7,"color":"white"},
 "encoding":{"text":{"field":"label"}}},
{"data":{"values":[{"session":346.74,"price":21.12}]},
 "mark":{"type":"point","filled":false,"color":"#131722","opacity":1,"strokeWidth":2,"size":841,"shape":"M-1,0 L-0.5,-0.87 L0.5,-0.87 L1,0 L0.5,0.87 L-0.5,0.87 Z"}},
{"data":{"values":[{"session":346.74,"price":21.12}]},
 "mark":{"type":"point","filled":false,"color":"#131722","opacity":1,"strokeWidth":2,"size":50,"shape":"circle"}},
{"data":{"values":[{"session":358.65,"price":14.16,"label":"18:10:28 UTC-4"}]},
 "mark":{"type":"text","align":"right","baseline":"middle","dy":2,"fontSize":28.9,"color":"#131722"},
 "encoding":{"text":{"field":"label"}}},
{"data":{"values":[{"session":0.9,"price":7.1,"label":"chart by TradingView"}]},
 "mark":{"type":"text","align":"left","baseline":"middle","dy":2,"font":"Open Sans","fontSize":23.2,"color":"#4a7ba6"},
 "encoding":{"text":{"field":"label"}}}
]
}
